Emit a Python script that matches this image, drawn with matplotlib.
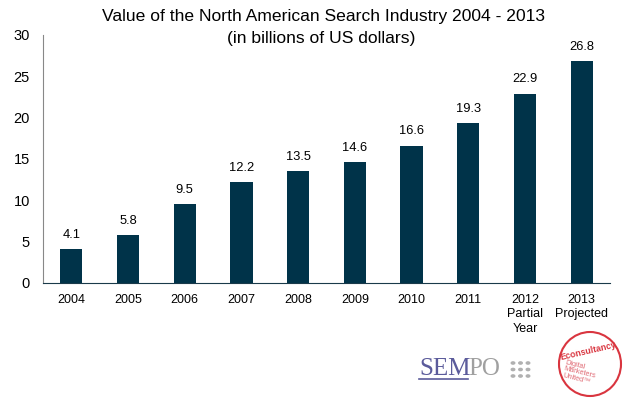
import matplotlib
matplotlib.use("Agg")
import matplotlib.pyplot as plt
from matplotlib.patches import Circle, Ellipse

years = ["2004", "2005", "2006", "2007", "2008", "2009", "2010", "2011", "2012\nPartial\nYear", "2013\nProjected"]
values = [4.1, 5.8, 9.5, 12.2, 13.5, 14.6, 16.6, 19.3, 22.9, 26.8]
yticks = [0, 5, 10, 15, 20, 25, 30]

plt.rcParams['font.family'] = ['Liberation Sans', 'DejaVu Sans']
fig = plt.figure(figsize=(6.25, 3.99), dpi=100)
ax = fig.add_axes([43/625, 1-283/399, 567/625, 248/399])
x = list(range(len(years)))
ax.bar(x, values, width=0.39, color="#003349")
for xi, v in zip(x, values):
    ax.annotate(f"{v:.1f}", (xi, v), xytext=(0, 6), textcoords="offset points",
                ha="center", va="bottom", fontsize=9.3, color="#000000")
ax.set_xlim(-0.5, len(years)-0.5)
ax.set_ylim(0, 30)
ax.set_yticks(yticks)
ax.set_xticks(x)
ax.set_xticklabels(years, fontsize=9, linespacing=1.25)
ax.tick_params(axis='y', length=0, labelsize=10.5, pad=9.5)
ax.tick_params(axis='x', length=0, pad=8)
for s in ["top", "right"]:
    ax.spines[s].set_visible(False)
ax.spines["left"].set_color("#888888")
ax.spines["bottom"].set_color("#1a3a4a")

fig.text(323/625, 1-16.5/399, "Value of the North American Search Industry 2004 - 2013",
         ha="center", va="center", fontsize=12.6)
fig.text(321/625, 1-39/399, "(in billions of US dollars)", ha="center", va="center", fontsize=12.6)

# SEMPO logo
fig.text(419/625, 1-369/399, "SEM", ha="left", va="center", fontsize=18,
         family="Liberation Serif", color="#5b5b9b")
fig.text(468/625, 1-369/399, "PO", ha="left", va="center", fontsize=18,
         family="Liberation Serif", color="#a0a0a0")
fig.add_artist(plt.Line2D([419/625, 468/625], [1-379/399]*2, color="#5b5b9b", lw=1.2))
for i in range(3):
    for j in range(3):
        fig.add_artist(Circle(((513 + i*7.5)/625, 1-(363 + j*6.5)/399), 0.0028,
                              color="#b0b0b0", transform=fig.transFigure))

# Econsultancy logo
fig.add_artist(Ellipse((590/625, 1-364/399), 62/625, 64/399, fill=False,
                       edgecolor="#d9353f", lw=1.5, transform=fig.transFigure))
fig.text(588/625, 1-351/399, "Econsultancy", ha="center", va="center", fontsize=6.3,
         color="#d9353f", weight="bold", rotation=13, rotation_mode="anchor")
fig.text(564/625, 1-369/399, "Digital\nMarketers\nUnited\u2122", ha="left", va="center",
         fontsize=5.3, color="#e06a74", rotation=-14, linespacing=0.85, rotation_mode="anchor")

fig.savefig("out.png", dpi=100, facecolor="white")
